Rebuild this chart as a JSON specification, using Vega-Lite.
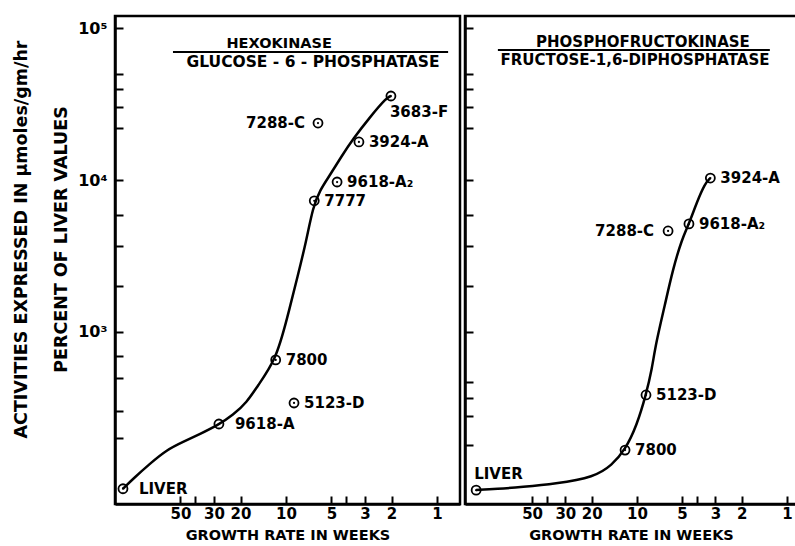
{
  "$schema": "https://vega.github.io/schema/vega-lite/v6.json",
  "padding": {"left": 10, "top": 14, "right": 0, "bottom": 0},
  "background": "white",
  "spacing": 0,
  "config": {
    "view": {"stroke": "black", "strokeWidth": 2.5},
    "font": "DejaVu Sans",
    "axis": {"domainColor": "black", "domainWidth": 2.5, "tickColor": "black", "tickWidth": 2, "grid": false, "labelFont": "DejaVu Sans", "labelFontWeight": "bold", "labelColor": "black", "titleFont": "DejaVu Sans", "titleFontWeight": "bold", "titleColor": "black", "labelOverlap": false, "labelFlush": false},
    "text": {"font": "DejaVu Sans", "fontWeight": "bold", "color": "black"}
  },
  "datasets": {
    "ptsL": [
      {"label": "LIVER", "weeks": 120, "value": 93},
      {"label": "9618-A", "weeks": 27.8, "value": 248},
      {"label": "7800", "weeks": 11.7, "value": 655},
      {"label": "5123-D", "weeks": 8.85, "value": 341},
      {"label": "7777", "weeks": 6.5, "value": 7300},
      {"label": "9618-A₂", "weeks": 4.59, "value": 9700},
      {"label": "3924-A", "weeks": 3.29, "value": 17800},
      {"label": "7288-C", "weeks": 6.14, "value": 23700},
      {"label": "3683-F", "weeks": 2.02, "value": 35700}
    ],
    "ptsR": [
      {"label": "LIVER", "weeks": 118, "value": 91},
      {"label": "7800", "weeks": 12.0, "value": 167},
      {"label": "5123-D", "weeks": 8.7, "value": 385},
      {"label": "7288-C", "weeks": 6.2, "value": 4620},
      {"label": "9618-A₂", "weeks": 4.5, "value": 5140},
      {"label": "3924-A", "weeks": 3.24, "value": 10300}
    ],
    "curveL": [
      {"weeks": 120, "value": 93}, {"weeks": 103, "value": 108}, {"weeks": 79.6, "value": 136},
      {"weeks": 61.4, "value": 168}, {"weeks": 48.1, "value": 189}, {"weeks": 37.1, "value": 213},
      {"weeks": 28.2, "value": 244}, {"weeks": 22.4, "value": 284}, {"weeks": 18.1, "value": 346},
      {"weeks": 15.6, "value": 434}, {"weeks": 11.65, "value": 655}, {"weeks": 9.85, "value": 1219},
      {"weeks": 8.33, "value": 2371}, {"weeks": 7.37, "value": 3910}, {"weeks": 6.63, "value": 6640},
      {"weeks": 5.96, "value": 8590}, {"weeks": 5.11, "value": 10790}, {"weeks": 4.32, "value": 14170},
      {"weeks": 3.6, "value": 18620}, {"weeks": 2.78, "value": 25970}, {"weeks": 2.14, "value": 35160},
      {"weeks": 2.02, "value": 35700}
    ],
    "curveR": [
      {"weeks": 118, "value": 91.4}, {"weeks": 85.8, "value": 92.7}, {"weeks": 58.4, "value": 95.5},
      {"weeks": 35.2, "value": 100}, {"weeks": 19.1, "value": 111}, {"weeks": 14.7, "value": 133},
      {"weeks": 12.0, "value": 167}, {"weeks": 10, "value": 244}, {"weeks": 8.71, "value": 385},
      {"weeks": 7.94, "value": 571}, {"weeks": 7.5, "value": 830}, {"weeks": 6.51, "value": 1506},
      {"weeks": 5.75, "value": 2600}, {"weeks": 5.01, "value": 4090}, {"weeks": 4.5, "value": 5140},
      {"weeks": 3.98, "value": 7170}, {"weeks": 3.52, "value": 9500}, {"weeks": 3.24, "value": 10300}
    ],
    "titlesL": [
      {"text": "HEXOKINASE", "weeks": 11.1, "value": 78500, "role": "num"},
      {"text": "GLUCOSE - 6 - PHOSPHATASE", "weeks": 6.62, "value": 59700, "role": "den"}
    ],
    "titlesR": [
      {"text": "PHOSPHOFRUCTOKINASE", "weeks": 9.12, "value": 80900, "role": "num"},
      {"text": "FRUCTOSE-1,6-DIPHOSPHATASE", "weeks": 10.3, "value": 61500, "role": "den"}
    ],
    "barL": [{"weeks": 56, "weeks2": 0.845, "value": 69500}],
    "barR": [{"weeks": 84.5, "weeks2": 1.3, "value": 71600}]
  },
  "hconcat": [
    {
      "width": 345,
      "height": 488,
      "layer": [
        {
          "data": {"name": "curveL"},
          "mark": {"type": "line", "color": "black", "strokeWidth": 2.5, "interpolate": "basis"},
          "encoding": {
            "x": {"field": "weeks", "type": "quantitative",
              "scale": {"type": "log", "domain": [0.705, 135.5], "reverse": true, "nice": false},
              "axis": {"values": [50, 40, 30, 20, 10, 5, 4, 3, 2, 1], "labelExpr": "datum.value==40||datum.value==4?'':datum.label", "tickSize": -8, "labelPadding": 10, "labelFontSize": 15, "title": "GROWTH RATE IN WEEKS", "titleFontSize": 14.5, "titlePadding": 7}},
            "y": {"field": "value", "type": "quantitative",
              "scale": {"type": "log", "domain": [73.8, 120000], "nice": false},
              "axis": {"values": [200, 300, 500, 700, 1000, 2000, 3700, 5900, 10000, 22000, 30000, 40000, 50000, 100000], "labelExpr": "datum.value==1000?'10³':datum.value==10000?'10⁴':datum.value==100000?'10⁵':''", "tickSize": -8, "labelPadding": 16, "labelFontSize": 16, "title": ["ACTIVITIES EXPRESSED IN  μmoles/gm/hr", "PERCENT OF LIVER VALUES"], "titleFontSize": 17.5, "titleLineHeight": 40, "titleX": -85, "titleY": 223, "titleAlign": "center", "titleBaseline": "bottom", "titleAngle": 270}}
          }
        },
        {
          "data": {"name": "barL"},
          "mark": {"type": "rule", "color": "black", "strokeWidth": 2},
          "encoding": {"x": {"field": "weeks", "type": "quantitative"}, "x2": {"field": "weeks2"}, "y": {"field": "value", "type": "quantitative"}}
        },
        {
          "data": {"name": "titlesL"},
          "transform": [{"filter": "datum.role=='num'"}],
          "mark": {"type": "text", "fontSize": 14.5, "align": "center", "baseline": "middle"},
          "encoding": {"x": {"field": "weeks", "type": "quantitative"}, "y": {"field": "value", "type": "quantitative"}, "text": {"field": "text"}}
        },
        {
          "data": {"name": "titlesL"},
          "transform": [{"filter": "datum.role=='den'"}],
          "mark": {"type": "text", "fontSize": 15.5, "align": "center", "baseline": "middle"},
          "encoding": {"x": {"field": "weeks", "type": "quantitative"}, "y": {"field": "value", "type": "quantitative"}, "text": {"field": "text"}}
        },
        {
          "data": {"name": "ptsL"},
          "mark": {"type": "point", "shape": "circle", "size": 81, "strokeWidth": 1.8, "color": "black", "filled": false, "opacity": 1},
          "encoding": {"x": {"field": "weeks", "type": "quantitative"}, "y": {"field": "value", "type": "quantitative"}}
        },
        {
          "data": {"name": "ptsL"},
          "mark": {"type": "point", "shape": "circle", "size": 5, "color": "black", "filled": true, "opacity": 1},
          "encoding": {"x": {"field": "weeks", "type": "quantitative"}, "y": {"field": "value", "type": "quantitative"}}
        },
        {
          "data": {"name": "ptsL"},
          "transform": [{"filter": {"field": "label", "oneOf": ["7800", "5123-D", "7777", "9618-A₂", "3924-A"]}}],
          "mark": {"type": "text", "fontSize": 15, "align": "left", "baseline": "middle", "dx": 10},
          "encoding": {"x": {"field": "weeks", "type": "quantitative"}, "y": {"field": "value", "type": "quantitative"}, "text": {"field": "label"}}
        },
        {
          "data": {"name": "ptsL"},
          "transform": [{"filter": {"field": "label", "oneOf": ["LIVER", "9618-A"]}}],
          "mark": {"type": "text", "fontSize": 15, "align": "left", "baseline": "middle", "dx": 16},
          "encoding": {"x": {"field": "weeks", "type": "quantitative"}, "y": {"field": "value", "type": "quantitative"}, "text": {"field": "label"}}
        },
        {
          "data": {"name": "ptsL"},
          "transform": [{"filter": {"field": "label", "oneOf": ["7288-C"]}}],
          "mark": {"type": "text", "fontSize": 15, "align": "right", "baseline": "middle", "dx": -13},
          "encoding": {"x": {"field": "weeks", "type": "quantitative"}, "y": {"field": "value", "type": "quantitative"}, "text": {"field": "label"}}
        },
        {
          "data": {"name": "ptsL"},
          "transform": [{"filter": {"field": "label", "oneOf": ["3683-F"]}}],
          "mark": {"type": "text", "fontSize": 15, "align": "left", "baseline": "middle", "dx": -1, "dy": 16},
          "encoding": {"x": {"field": "weeks", "type": "quantitative"}, "y": {"field": "value", "type": "quantitative"}, "text": {"field": "label"}}
        }
      ]
    },
    {
      "width": 332,
      "height": 488,
      "layer": [
        {
          "data": {"name": "curveR"},
          "mark": {"type": "line", "color": "black", "strokeWidth": 2.5, "interpolate": "basis"},
          "encoding": {
            "x": {"field": "weeks", "type": "quantitative",
              "scale": {"type": "log", "domain": [0.857, 140], "reverse": true, "nice": false},
              "axis": {"values": [50, 40, 30, 20, 10, 5, 4, 3, 2, 1], "labelExpr": "datum.value==40||datum.value==4?'':datum.label", "tickSize": -8, "labelPadding": 10, "labelFontSize": 15, "title": "GROWTH RATE IN WEEKS", "titleFontSize": 14.5, "titlePadding": 7}},
            "y": {"field": "value", "type": "quantitative",
              "scale": {"type": "log", "domain": [73.8, 120000], "nice": false},
              "axis": {"values": [180, 280, 370, 470, 1000, 2000, 3700, 5900, 10000, 22000, 30000, 40000, 50000, 100000], "labels": false, "tickSize": -8, "title": null}}
          }
        },
        {
          "data": {"name": "barR"},
          "mark": {"type": "rule", "color": "black", "strokeWidth": 2},
          "encoding": {"x": {"field": "weeks", "type": "quantitative"}, "x2": {"field": "weeks2"}, "y": {"field": "value", "type": "quantitative"}}
        },
        {
          "data": {"name": "titlesR"},
          "mark": {"type": "text", "fontSize": 15, "align": "center", "baseline": "middle"},
          "encoding": {"x": {"field": "weeks", "type": "quantitative"}, "y": {"field": "value", "type": "quantitative"}, "text": {"field": "text"}}
        },
        {
          "data": {"name": "ptsR"},
          "mark": {"type": "point", "shape": "circle", "size": 81, "strokeWidth": 1.8, "color": "black", "filled": false, "opacity": 1},
          "encoding": {"x": {"field": "weeks", "type": "quantitative"}, "y": {"field": "value", "type": "quantitative"}}
        },
        {
          "data": {"name": "ptsR"},
          "mark": {"type": "point", "shape": "circle", "size": 5, "color": "black", "filled": true, "opacity": 1},
          "encoding": {"x": {"field": "weeks", "type": "quantitative"}, "y": {"field": "value", "type": "quantitative"}}
        },
        {
          "data": {"name": "ptsR"},
          "transform": [{"filter": {"field": "label", "oneOf": ["7800", "5123-D", "9618-A₂", "3924-A"]}}],
          "mark": {"type": "text", "fontSize": 15, "align": "left", "baseline": "middle", "dx": 10},
          "encoding": {"x": {"field": "weeks", "type": "quantitative"}, "y": {"field": "value", "type": "quantitative"}, "text": {"field": "label"}}
        },
        {
          "data": {"name": "ptsR"},
          "transform": [{"filter": {"field": "label", "oneOf": ["7288-C"]}}],
          "mark": {"type": "text", "fontSize": 15, "align": "right", "baseline": "middle", "dx": -14},
          "encoding": {"x": {"field": "weeks", "type": "quantitative"}, "y": {"field": "value", "type": "quantitative"}, "text": {"field": "label"}}
        },
        {
          "data": {"name": "ptsR"},
          "transform": [{"filter": {"field": "label", "oneOf": ["LIVER"]}}],
          "mark": {"type": "text", "fontSize": 15, "align": "left", "baseline": "middle", "dx": -2, "dy": -16},
          "encoding": {"x": {"field": "weeks", "type": "quantitative"}, "y": {"field": "value", "type": "quantitative"}, "text": {"field": "label"}}
        }
      ]
    }
  ]
}
